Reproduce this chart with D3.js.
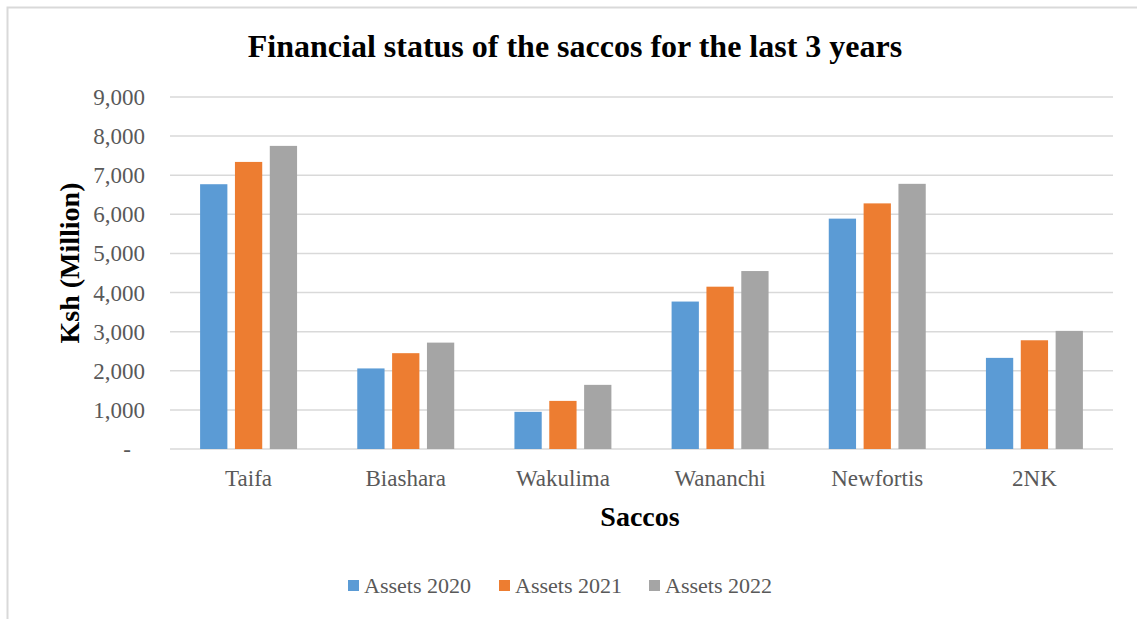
<!DOCTYPE html>
<meta charset="utf-8">
<head>
<script src="https://d3js.org/d3.v7.min.js"></script>
<style>
  body { margin: 0; background: #fff; }
  text { font-family: "Liberation Serif", "Times New Roman", serif; }
</style>
</head>
<body>
<svg id="chart" width="1137" height="619"></svg>
<script>

// data (Ksh million)
var saccos = ["Taifa", "Biashara", "Wakulima", "Wananchi", "Newfortis", "2NK"];
var seriesNames = ["Assets 2020", "Assets 2021", "Assets 2022"];
var assets2020 = [6770, 2060, 950, 3770, 5890, 2330];
var assets2021 = [7340, 2450, 1230, 4150, 6280, 2780];
var assets2022 = [7750, 2720, 1640, 4550, 6780, 3020];
var yTicks = [0, 1000, 2000, 3000, 4000, 5000, 6000, 7000, 8000, 9000];
var colors = ["#5b9bd5", "#ed7d31", "#a5a5a5"];

var seriesValues = [assets2020, assets2021, assets2022];

var svg = d3.select("#chart");

// outer frame
svg.append("path")
  .attr("d", "M7.5,619 V7.5 H1137")
  .attr("fill", "none")
  .attr("stroke", "#d9d9d9")
  .attr("stroke-width", 2);

var plotLeft = 170, plotRight = 1113, plotTop = 97, plotBottom = 449;

var y = d3.scaleLinear().domain([0, 9000]).range([plotBottom, plotTop]);

var x0 = d3.scaleBand()
  .domain(saccos)
  .range([plotLeft, plotRight])
  .paddingInner(0.383)
  .paddingOuter(0.1915);

var x1 = d3.scaleBand()
  .domain(seriesNames)
  .range([0, x0.bandwidth()])
  .paddingInner(0.217);

// gridlines
svg.append("g")
  .selectAll("line")
  .data(yTicks)
  .enter()
  .append("line")
    .attr("x1", plotLeft)
    .attr("x2", plotRight)
    .attr("y1", function(d) { return y(d); })
    .attr("y2", function(d) { return y(d); })
    .attr("stroke", "#d9d9d9")
    .attr("stroke-width", 1.5);

// y tick labels
svg.append("g")
  .selectAll("text")
  .data(yTicks)
  .enter()
  .append("text")
    .attr("x", function(d) { return d == 0 ? 131 : 145; })
    .attr("y", function(d) { return y(d) + 8; })
    .attr("text-anchor", "end")
    .attr("font-size", 23)
    .attr("fill", "#595959")
    .text(function(d) { return d == 0 ? "-" : d3.format(",")(d); });

// bars
seriesNames.forEach(function(name, i) {
  svg.append("g")
    .selectAll("rect")
    .data(seriesValues[i])
    .enter()
    .append("rect")
      .attr("x", function(d, j) { return x0(saccos[j]) + x1(name); })
      .attr("y", function(d) { return y(d); })
      .attr("width", x1.bandwidth())
      .attr("height", function(d) { return plotBottom - y(d); })
      .attr("fill", colors[i]);
});

// category labels
svg.append("g")
  .selectAll("text")
  .data(saccos)
  .enter()
  .append("text")
    .attr("x", function(d) { return x0(d) + x0.bandwidth() / 2; })
    .attr("y", 486)
    .attr("text-anchor", "middle")
    .attr("font-size", 23)
    .attr("fill", "#595959")
    .text(function(d) { return d; });

// title
svg.append("text")
  .attr("x", 575)
  .attr("y", 57)
  .attr("text-anchor", "middle")
  .attr("font-size", 32)
  .attr("font-weight", "bold")
  .attr("fill", "#000")
  .text("Financial status of the saccos for the last 3 years");

// axis titles
svg.append("text")
  .attr("transform", "translate(79,263) rotate(-90)")
  .attr("text-anchor", "middle")
  .attr("font-size", 28)
  .attr("font-weight", "bold")
  .attr("fill", "#000")
  .text("Ksh (Million)");

svg.append("text")
  .attr("x", 640)
  .attr("y", 526)
  .attr("text-anchor", "middle")
  .attr("font-size", 28)
  .attr("font-weight", "bold")
  .attr("fill", "#000")
  .text("Saccos");

// legend
var legendX = [348, 499, 649];
var legend = svg.append("g")
  .selectAll("g")
  .data(seriesNames)
  .enter()
  .append("g")
    .attr("transform", function(d, i) { return "translate(" + legendX[i] + ",580)"; });

legend.append("rect")
  .attr("width", 11)
  .attr("height", 11)
  .attr("fill", function(d, i) { return colors[i]; });

legend.append("text")
  .attr("x", 16)
  .attr("y", 13)
  .attr("font-size", 22)
  .attr("fill", "#595959")
  .text(function(d) { return d; });

</script>
</body>
